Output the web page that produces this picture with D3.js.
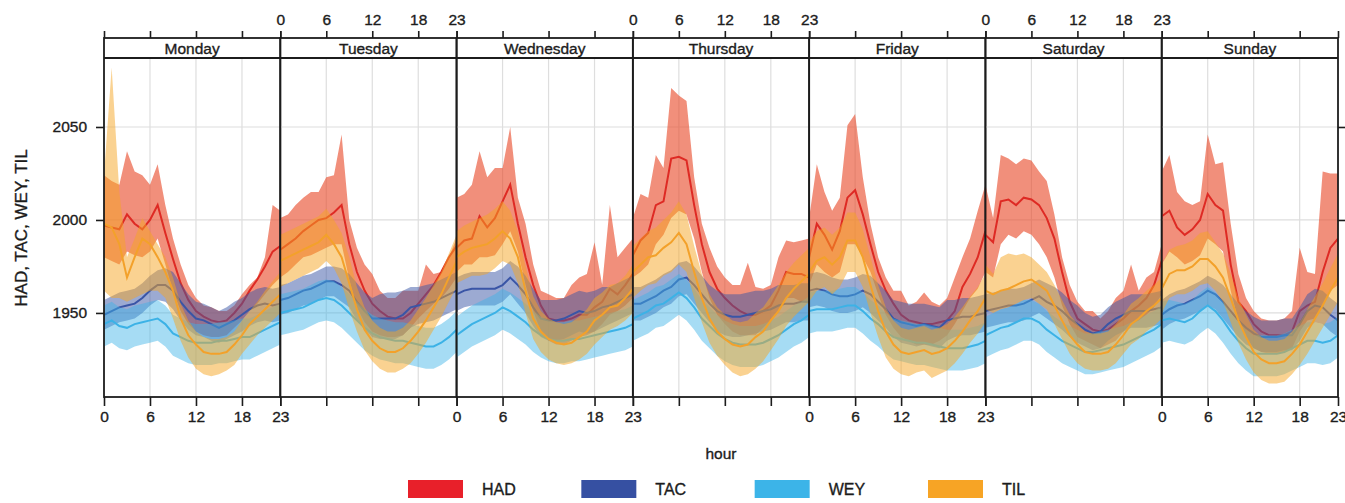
<!DOCTYPE html>
<html>
<head>
<meta charset="utf-8">
<script src="https://cdn.jsdelivr.net/npm/d3@7"></script>
<style>
  body { margin: 0; background: #fff; }
  svg { display: block; font-family: "Liberation Sans", Arial, sans-serif; }
  text { stroke: #1c1c1c; stroke-width: 0.35px; }
</style>
</head>
<body>
<svg></svg>
<script>
var width = 1345, height = 503;

var days = ["Monday", "Tuesday", "Wednesday", "Thursday", "Friday", "Saturday", "Sunday"];
var hours = d3.range(24);
var hourTicks = [0, 6, 12, 18, 23];
var yTicks = [1950, 2000, 2050];
var seriesNames = ["HAD", "TAC", "WEY", "TIL"];

// HAD: mean and band, one row per day (hours 0..23)
var hadMean = [
  [1997,1996,1995,2003,1998,1995,2000,2008,1993,1979,1966,1957,1951,1948,1946,1945,1946,1950,1955,1962,1968,1975,1983,1986],
  [1984,1987,1990,1994,1997,2000,2001,2004,2008,1987,1972,1962,1955,1951,1948,1947,1947,1950,1955,1960,1965,1972,1980,1986],
  [1985,1989,1990,2002,1996,2001,2010,2019,1998,1980,1965,1954,1947,1946,1946,1947,1949,1949,1953,1956,1963,1960,1965,1971],
  [1981,1989,1993,2008,2010,2033,2034,2032,2008,1987,1972,1963,1958,1954,1951,1949,1949,1951,1954,1962,1972,1971,1971,1969],
  [1980,1998,1992,1984,1994,2012,2016,2003,1987,1972,1962,1955,1949,1946,1945,1944,1944,1945,1946,1951,1964,1971,1980,1994],
  [1992,1988,2010,2011,2008,2012,2011,2008,2001,1990,1972,1956,1947,1944,1941,1940,1941,1944,1947,1951,1954,1958,1965,1978],
  [2002,2005,1996,1992,1995,2000,2014,2008,2005,1976,1956,1951,1944,1940,1938,1938,1938,1940,1951,1954,1956,1972,1985,1990]
];
var hadLo = [
  [1980,1978,1976,1983,1981,1980,1983,1990,1976,1962,1951,1944,1940,1938,1937,1937,1938,1942,1946,1951,1955,1960,1965,1969],
  [1969,1972,1976,1980,1981,1983,1985,1987,1987,1968,1953,1945,1940,1938,1937,1937,1938,1942,1947,1951,1955,1958,1963,1969],
  [1972,1976,1976,1980,1980,1981,1987,1994,1983,1965,1951,1940,1935,1933,1933,1935,1937,1938,1940,1944,1949,1951,1954,1958],
  [1969,1972,1976,1987,1992,2001,2005,2003,1990,1972,1958,1949,1944,1940,1938,1938,1938,1942,1946,1951,1958,1958,1956,1955],
  [1965,1976,1972,1969,1972,1987,1987,1980,1972,1960,1949,1942,1937,1935,1933,1933,1933,1935,1938,1944,1951,1958,1963,1972],
  [1972,1969,1987,1992,1990,1994,1992,1987,1980,1969,1954,1944,1937,1935,1933,1931,1933,1935,1940,1944,1946,1949,1953,1960],
  [1976,1983,1980,1976,1978,1981,1990,1987,1983,1962,1946,1937,1931,1929,1928,1928,1929,1931,1940,1946,1947,1954,1962,1965]
];
var hadHi = [
  [2024,2021,2019,2037,2026,2024,2019,2030,2008,1990,1976,1965,1958,1954,1953,1951,1951,1954,1960,1965,1969,1980,2008,2005],
  [2001,2003,2008,2012,2015,2015,2023,2024,2046,2000,1985,1976,1971,1962,1958,1958,1962,1962,1962,1976,1971,1972,1980,1990],
  [2012,2014,2019,2037,2023,2028,2028,2050,2012,1998,1976,1962,1960,1958,1958,1965,1969,1971,1988,1965,2008,1980,1985,1990],
  [2001,2014,2012,2035,2028,2071,2067,2064,2023,1998,1985,1975,1969,1965,1965,1977,1964,1963,1965,1980,1989,1988,1989,1990],
  [2001,2030,2015,2005,2012,2051,2057,2023,1998,1980,1969,1962,1962,1954,1956,1961,1956,1954,1958,1969,1980,1990,2005,2019],
  [2019,2001,2035,2033,2030,2033,2032,2026,2021,2003,1980,1965,1956,1951,1951,1947,1951,1958,1962,1976,1962,1969,1972,1987],
  [2026,2035,2015,2010,2008,2010,2046,2030,2031,1998,1971,1958,1951,1947,1946,1946,1947,1951,1985,1972,1971,2026,2025,2025]
];

// TAC
var tacMean = [
  [1949,1951,1953,1954,1955,1958,1962,1965,1965,1962,1956,1951,1947,1946,1944,1942,1944,1946,1949,1952,1954,1955,1954,1955],
  [1957,1958,1960,1962,1963,1965,1967,1967,1965,1962,1956,1951,1947,1947,1947,1947,1949,1953,1954,1955,1956,1958,1960,1962],
  [1960,1962,1963,1963,1963,1963,1965,1969,1965,1960,1953,1947,1946,1946,1947,1949,1951,1950,1951,1953,1954,1956,1958,1960],
  [1955,1955,1957,1959,1962,1964,1968,1969,1965,1960,1955,1951,1949,1948,1948,1949,1950,1951,1952,1954,1955,1955,1956,1956],
  [1962,1963,1962,1960,1959,1959,1960,1962,1960,1956,1952,1947,1945,1944,1943,1944,1943,1942,1946,1947,1948,1948,1949,1950],
  [1951,1952,1953,1954,1954,1955,1957,1959,1956,1954,1951,1947,1944,1941,1939,1940,1944,1947,1949,1951,1951,1951,1952,1953],
  [1949,1952,1954,1955,1957,1959,1962,1960,1956,1951,1946,1942,1939,1937,1937,1937,1938,1938,1944,1951,1954,1953,1949,1946]
];
var tacLo = [
  [1941,1943,1945,1946,1947,1950,1954,1957,1956,1952,1946,1941,1938,1937,1935,1934,1936,1938,1940,1943,1945,1946,1945,1946],
  [1949,1950,1952,1954,1955,1957,1959,1959,1956,1953,1946,1941,1937,1936,1936,1936,1938,1942,1944,1945,1946,1948,1950,1952],
  [1951,1953,1954,1954,1954,1954,1956,1960,1955,1950,1943,1937,1935,1935,1936,1938,1940,1939,1940,1942,1944,1946,1948,1950],
  [1946,1946,1948,1950,1953,1955,1959,1960,1955,1950,1945,1940,1938,1937,1937,1938,1939,1940,1941,1943,1945,1945,1946,1946],
  [1953,1954,1953,1951,1950,1950,1951,1953,1950,1946,1942,1937,1934,1933,1932,1933,1932,1931,1935,1937,1938,1938,1939,1940],
  [1942,1943,1944,1945,1945,1946,1948,1950,1947,1944,1941,1937,1934,1932,1930,1931,1935,1938,1940,1942,1942,1942,1943,1944],
  [1941,1944,1946,1947,1949,1951,1954,1952,1947,1942,1937,1933,1931,1929,1929,1929,1930,1930,1935,1942,1945,1944,1940,1937]
];
var tacHi = [
  [1957,1959,1961,1962,1963,1966,1970,1973,1974,1972,1966,1960,1956,1955,1953,1951,1953,1956,1958,1961,1963,1964,1963,1964],
  [1965,1966,1968,1970,1971,1973,1975,1975,1974,1971,1966,1961,1958,1960,1961,1961,1962,1964,1964,1965,1966,1968,1970,1972],
  [1969,1971,1972,1972,1972,1972,1974,1978,1975,1970,1963,1957,1957,1957,1958,1960,1962,1961,1962,1964,1964,1966,1968,1970],
  [1964,1964,1966,1968,1971,1973,1977,1978,1975,1970,1965,1962,1960,1960,1960,1961,1962,1962,1963,1965,1965,1965,1966,1966],
  [1971,1972,1971,1969,1968,1968,1969,1971,1970,1966,1962,1957,1956,1955,1955,1955,1954,1953,1957,1957,1958,1958,1959,1960],
  [1960,1961,1962,1963,1963,1964,1966,1968,1966,1964,1961,1957,1954,1950,1948,1949,1953,1956,1958,1960,1960,1960,1961,1962],
  [1957,1960,1962,1963,1965,1967,1970,1968,1965,1960,1955,1951,1948,1946,1946,1946,1947,1947,1953,1960,1963,1962,1958,1955]
];

// WEY
var weyMean = [
  [1944,1946,1943,1942,1944,1945,1946,1947,1944,1939,1937,1935,1934,1934,1934,1935,1935,1936,1937,1937,1939,1941,1943,1945],
  [1950,1951,1952,1953,1955,1957,1958,1957,1954,1950,1946,1942,1939,1937,1936,1935,1935,1934,1933,1932,1932,1934,1937,1941],
  [1938,1941,1944,1946,1948,1950,1953,1951,1948,1945,1941,1938,1936,1935,1935,1936,1936,1937,1938,1939,1940,1941,1942,1944],
  [1947,1949,1951,1954,1955,1958,1961,1958,1953,1947,1943,1939,1936,1934,1933,1933,1933,1934,1936,1938,1941,1944,1946,1949],
  [1951,1952,1952,1952,1953,1954,1954,1951,1947,1944,1940,1937,1936,1935,1934,1934,1933,1932,1931,1931,1931,1932,1933,1935],
  [1938,1940,1942,1943,1945,1947,1947,1945,1941,1938,1935,1933,1931,1929,1929,1930,1931,1932,1933,1935,1937,1939,1941,1944],
  [1946,1947,1946,1945,1947,1951,1954,1951,1946,1940,1935,1931,1928,1928,1928,1928,1929,1931,1933,1935,1935,1934,1935,1938]
];
var weyLo = [
  [1932,1934,1931,1930,1932,1933,1934,1935,1932,1927,1925,1923,1922,1922,1922,1923,1923,1924,1925,1925,1927,1929,1931,1933],
  [1938,1939,1940,1941,1943,1945,1946,1945,1942,1938,1934,1930,1927,1925,1924,1923,1923,1922,1921,1920,1920,1922,1925,1929],
  [1926,1929,1932,1934,1936,1938,1941,1939,1936,1933,1929,1926,1924,1923,1923,1924,1924,1925,1926,1927,1928,1929,1930,1932],
  [1935,1937,1939,1942,1943,1946,1949,1946,1941,1935,1931,1927,1924,1922,1921,1921,1921,1922,1924,1926,1929,1932,1934,1937],
  [1939,1940,1940,1940,1941,1942,1942,1939,1935,1932,1928,1925,1924,1923,1922,1922,1921,1920,1919,1919,1919,1920,1921,1923],
  [1926,1928,1930,1931,1933,1935,1935,1933,1929,1926,1923,1921,1919,1917,1917,1918,1919,1920,1921,1923,1925,1927,1929,1932],
  [1934,1935,1934,1933,1935,1939,1942,1939,1934,1928,1923,1919,1916,1916,1916,1916,1917,1919,1921,1923,1923,1922,1923,1926]
];
var weyHi = [
  [1954,1956,1953,1952,1954,1955,1956,1957,1954,1949,1947,1945,1944,1944,1944,1945,1945,1946,1947,1947,1949,1951,1953,1955],
  [1960,1961,1962,1963,1965,1967,1968,1967,1964,1960,1956,1952,1949,1947,1946,1945,1945,1944,1943,1942,1942,1944,1947,1951],
  [1948,1951,1954,1956,1958,1960,1963,1961,1958,1955,1951,1948,1946,1945,1945,1946,1946,1947,1948,1949,1950,1951,1952,1954],
  [1957,1959,1961,1964,1965,1968,1971,1968,1963,1957,1953,1949,1946,1944,1943,1943,1943,1944,1946,1948,1951,1954,1956,1959],
  [1961,1962,1962,1962,1963,1964,1964,1961,1957,1954,1950,1947,1946,1945,1944,1944,1943,1942,1941,1941,1941,1942,1943,1945],
  [1948,1950,1952,1953,1955,1957,1957,1955,1951,1948,1945,1943,1941,1939,1939,1940,1941,1942,1943,1945,1947,1949,1951,1954],
  [1956,1957,1956,1955,1957,1961,1964,1961,1956,1950,1945,1941,1938,1938,1938,1938,1939,1941,1943,1945,1945,1944,1945,1948]
];

// TIL
var tilMean = [
  [1998,1996,1987,1969,1980,1990,1987,1980,1972,1962,1947,1938,1933,1929,1928,1928,1929,1933,1938,1944,1948,1952,1956,1960],
  [1978,1980,1982,1984,1986,1988,1992,1987,1980,1966,1952,1941,1935,1931,1929,1929,1931,1935,1940,1946,1953,1960,1969,1978],
  [1980,1983,1985,1986,1987,1990,1994,1990,1980,1962,1947,1940,1936,1934,1933,1934,1937,1940,1946,1949,1953,1954,1958,1963],
  [1972,1976,1980,1981,1985,1988,1993,1987,1972,1958,1947,1940,1936,1933,1932,1933,1937,1940,1946,1951,1958,1963,1967,1971],
  [1972,1978,1980,1976,1980,1989,1989,1980,1965,1951,1940,1933,1929,1928,1929,1930,1928,1929,1931,1935,1940,1946,1951,1958],
  [1962,1960,1962,1963,1965,1967,1968,1965,1962,1954,1946,1938,1933,1929,1928,1928,1929,1933,1938,1944,1947,1951,1954,1958],
  [1963,1971,1973,1973,1975,1979,1979,1975,1969,1958,1946,1937,1929,1925,1923,1923,1924,1928,1933,1940,1947,1954,1962,1969]
];
var tilLo = [
  [1962,1958,1958,1956,1958,1960,1962,1962,1958,1947,1935,1926,1920,1917,1916,1917,1919,1922,1928,1933,1938,1942,1946,1950],
  [1964,1966,1968,1970,1972,1974,1978,1974,1966,1952,1940,1930,1924,1920,1918,1918,1920,1923,1928,1934,1941,1948,1956,1964],
  [1966,1968,1970,1970,1971,1974,1978,1976,1966,1950,1936,1929,1925,1923,1922,1923,1925,1928,1933,1937,1941,1943,1946,1950],
  [1958,1962,1965,1966,1970,1972,1976,1972,1958,1945,1934,1927,1922,1918,1916,1917,1920,1924,1930,1936,1943,1948,1952,1956],
  [1956,1962,1964,1960,1964,1972,1972,1964,1950,1937,1926,1920,1917,1916,1918,1919,1915,1917,1919,1923,1928,1934,1939,1945],
  [1952,1950,1952,1953,1955,1957,1958,1955,1952,1944,1936,1928,1923,1920,1919,1919,1920,1923,1928,1933,1936,1940,1943,1947],
  [1950,1958,1960,1960,1962,1965,1966,1962,1956,1945,1934,1925,1918,1914,1912,1912,1913,1917,1922,1928,1935,1942,1949,1956]
];
var tilHi = [
  [2024,2082,2015,1980,1990,2001,1994,1987,1980,1969,1955,1946,1940,1937,1936,1936,1937,1940,1946,1951,1956,1962,1967,1972],
  [1992,1994,1996,1998,2000,2002,2006,2000,1993,1980,1964,1953,1946,1942,1940,1940,1942,1946,1952,1958,1965,1972,1982,1992],
  [1994,1997,1999,2001,2003,2006,2010,2005,1994,1975,1959,1951,1947,1945,1944,1945,1948,1952,1958,1961,1965,1966,1970,1976],
  [1986,1990,1994,1996,2000,2004,2010,2003,1986,1971,1960,1953,1949,1946,1945,1946,1950,1953,1959,1965,1972,1977,1981,1985],
  [1988,1994,1996,1992,1996,2004,2004,1995,1980,1965,1953,1946,1942,1941,1942,1943,1941,1942,1944,1948,1953,1959,1964,1971],
  [1976,1971,1980,1982,1981,1982,1980,1976,1972,1965,1957,1949,1944,1940,1939,1939,1940,1944,1949,1955,1958,1962,1965,1969],
  [1976,1984,1986,1987,1989,1993,1994,1988,1982,1971,1958,1949,1941,1937,1935,1935,1936,1940,1945,1952,1959,1966,1974,1982]
];

var series = [
  {name: "HAD", mean: hadMean, lo: hadLo, hi: hadHi},
  {name: "TAC", mean: tacMean, lo: tacLo, hi: tacHi},
  {name: "WEY", mean: weyMean, lo: weyLo, hi: weyHi},
  {name: "TIL", mean: tilMean, lo: tilLo, hi: tilHi}
];

var lineColor = {HAD: "#de2a24", TAC: "#3a55a6", WEY: "#3cb2e6", TIL: "#f3a12a"};
var bandColor = {HAD: "#e84a2a", TAC: "#3a55a6", WEY: "#3cb2e6", TIL: "#f5a623"};
var bandOpacity = {HAD: 0.62, TAC: 0.5, WEY: 0.46, TIL: 0.5};
var legendColor = {HAD: "#e8202a", TAC: "#3650a2", WEY: "#3cb4e8", TIL: "#f7a425"};

var plotLeft = 104, plotRight = 1338, stripTop = 38, plotTop = 58, plotBottom = 397;
var ink = "#1c1c1c";

var svg = d3.select("svg")
  .attr("width", width)
  .attr("height", height);

var panel = d3.scaleBand().domain(days).range([plotLeft, plotRight]);
var pw = panel.bandwidth();

var y = d3.scaleLinear().domain([1904.8, 2087.1]).range([plotBottom, plotTop]);
var x = d3.scaleLinear().domain([0, 23]).range([0, pw]);

svg.append("defs").append("clipPath").attr("id", "clip")
  .append("rect").attr("x", 0).attr("y", plotTop).attr("width", pw).attr("height", plotBottom - plotTop);

days.forEach(function(day, i) {
  var g = svg.append("g").attr("transform", "translate(" + panel(day) + ",0)");

  // grid
  g.selectAll(".vg").data([6, 12, 18]).enter().append("line")
    .attr("x1", function(d) { return x(d); }).attr("x2", function(d) { return x(d); })
    .attr("y1", plotTop).attr("y2", plotBottom)
    .attr("stroke", "#dedede").attr("stroke-width", 1.2);
  g.selectAll(".hg").data(yTicks).enter().append("line")
    .attr("x1", 0).attr("x2", pw)
    .attr("y1", function(d) { return y(d); }).attr("y2", function(d) { return y(d); })
    .attr("stroke", "#dedede").attr("stroke-width", 1.2);

  var plot = g.append("g").attr("clip-path", "url(#clip)");

  series.forEach(function(s) {
    var area = d3.area()
      .x(function(h) { return x(h); })
      .y0(function(h) { return y(s.lo[i][h]); })
      .y1(function(h) { return y(s.hi[i][h]); });
    var line = d3.line()
      .x(function(h) { return x(h); })
      .y(function(h) { return y(s.mean[i][h]); });

    plot.append("path").datum(hours)
      .attr("d", area)
      .attr("fill", bandColor[s.name])
      .attr("fill-opacity", bandOpacity[s.name]);
    plot.append("path").datum(hours)
      .attr("d", line)
      .attr("fill", "none")
      .attr("stroke", lineColor[s.name])
      .attr("stroke-width", 2);
  });

  // bottom axis, labels on every other panel
  var xb = d3.axisBottom(x).tickValues(hourTicks).tickSize(9).tickPadding(5);
  if (i % 2 == 1) xb.tickFormat("");
  var gb = g.append("g").attr("transform", "translate(0," + plotBottom + ")").call(xb);

  // top axis, labels on the other panels
  var xt = d3.axisTop(x).tickValues(hourTicks).tickSize(7).tickPadding(6);
  if (i % 2 == 0) xt.tickFormat("");
  var gt = g.append("g").attr("transform", "translate(0," + stripTop + ")").call(xt);

  [gb, gt].forEach(function(a) {
    a.select(".domain").remove();
    a.selectAll(".tick line").attr("stroke", ink).attr("stroke-width", 1.6);
    a.selectAll(".tick text").attr("fill", ink).style("font-size", "15.5px");
  });

  // strip
  g.append("rect").attr("x", 0).attr("y", stripTop).attr("width", pw).attr("height", plotBottom - stripTop)
    .attr("fill", "none").attr("stroke", ink).attr("stroke-width", 1.8);
  g.append("line").attr("x1", 0).attr("x2", pw).attr("y1", plotTop).attr("y2", plotTop)
    .attr("stroke", ink).attr("stroke-width", 1.8);
  g.append("text")
    .attr("x", pw / 2).attr("y", (stripTop + plotTop) / 2)
    .attr("dy", "0.36em")
    .attr("text-anchor", "middle")
    .attr("fill", ink)
    .style("font-size", "15.5px")
    .text(day);
});

// y axes
var yl = svg.append("g").attr("transform", "translate(" + plotLeft + ",0)")
  .call(d3.axisLeft(y).tickValues(yTicks).tickSize(8).tickPadding(9).tickFormat(d3.format("d")));
var yr = svg.append("g").attr("transform", "translate(" + plotRight + ",0)")
  .call(d3.axisRight(y).tickValues(yTicks).tickSize(7).tickFormat(""));
[yl, yr].forEach(function(a) {
  a.select(".domain").remove();
  a.selectAll(".tick line").attr("stroke", ink).attr("stroke-width", 1.6);
  a.selectAll(".tick text").attr("fill", ink).style("font-size", "15.5px");
});

svg.append("text")
  .attr("transform", "translate(27,228) rotate(-90)")
  .attr("text-anchor", "middle")
  .attr("fill", ink)
  .style("font-size", "17px")
  .text("HAD, TAC, WEY, TIL");

svg.append("text")
  .attr("x", 721).attr("y", 459)
  .attr("text-anchor", "middle")
  .attr("fill", ink)
  .style("font-size", "15.5px")
  .text("hour");

// legend
var legendX = d3.scalePoint().domain(seriesNames).range([408, 928]);
var lg = svg.selectAll(".legend").data(seriesNames).enter().append("g")
  .attr("transform", function(d) { return "translate(" + legendX(d) + ",480)"; });
lg.append("rect").attr("width", 55).attr("height", 18)
  .attr("fill", function(d) { return legendColor[d]; });
lg.append("text").attr("x", 74).attr("y", 15)
  .attr("fill", ink)
  .style("font-size", "16px")
  .text(function(d) { return d; });
</script>
</body>
</html>
